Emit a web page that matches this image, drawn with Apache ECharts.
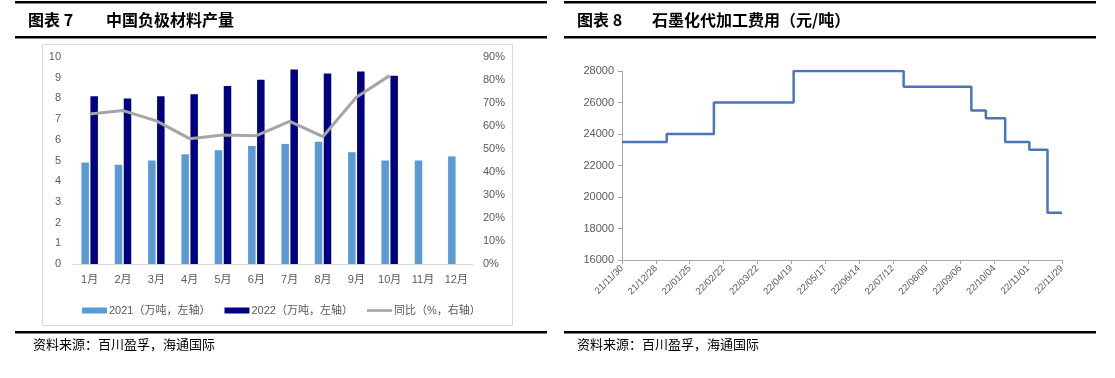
<!DOCTYPE html>
<html><head><meta charset="utf-8">
<script src="https://cdn.jsdelivr.net/npm/echarts@6/dist/echarts.min.js"></script>
<style>html,body{margin:0;padding:0;background:#fff;}#c{width:1115px;height:378px;}</style>
</head><body><div id="c"></div>
<script>
// ---- Chart 7 data ----
const months = ['1月','2月','3月','4月','5月','6月','7月','8月','9月','10月','11月','12月'];
const output2021 = [4.9, 4.8, 5.0, 5.3, 5.5, 5.7, 5.8, 5.9, 5.4, 5.0, 5.0, 5.2];
const output2022 = [8.1, 8.0, 8.1, 8.2, 8.6, 8.9, 9.4, 9.2, 9.3, 9.1, null, null];
const yoy = [0.652, 0.667, 0.622, 0.545, 0.561, 0.558, 0.62, 0.554, 0.725, 0.819, null, null];
const leftTicks = [0, 10, 1];      // min, max, interval
const rightTicks = [0, 0.9, 0.1];
const seriesNames = ['2021（万吨，左轴）', '2022（万吨，左轴）', '同比（%，右轴）'];

// ---- Chart 8 data ----
const feeStart = '2021-11-30';
const feeEnd = '2022-11-29';
const feeDates = ['2021-11-30','2022-01-06','2022-02-14','2022-04-21','2022-07-21','2022-09-15','2022-09-27','2022-10-13','2022-11-02','2022-11-17','2022-11-29'];
const feeValues = [23500, 24000, 26000, 28000, 27000, 25500, 25000, 23500, 23000, 19000, 19000];
const feeTickDays = 28;
const feeYTicks = [16000, 28000, 2000];

const title7 = ['图表 7', '中国负极材料产量'];
const title8 = ['图表 8', '石墨化代加工费用（元/吨）'];
const sourceText = '资料来源：百川盈孚，海通国际';

const DAY = 86400000;
function toUTC(s){ const p = s.split('-').map(Number); return Date.UTC(p[0], p[1]-1, p[2]); }
const t0 = toUTC(feeStart);
const feeData = feeDates.map((d, i) => [(toUTC(d) - t0) / DAY, feeValues[i]]);
const feeMax = (toUTC(feeEnd) - t0) / DAY;
function fmtDay(v){
  const d = new Date(t0 + v * DAY);
  const p = n => String(n).padStart(2, '0');
  return p(d.getUTCFullYear() % 100) + '/' + p(d.getUTCMonth() + 1) + '/' + p(d.getUTCDate());
}

const labelColor = '#595959';
const cjk = '"Noto Sans CJK SC", "Noto Sans", sans-serif';
const font = 'Arial, "Liberation Sans", "Noto Sans CJK SC", sans-serif';

function rule(x1, x2, y, h){
  return { type: 'rect', silent: true, shape: { x: x1, y: y, width: x2 - x1, height: h }, style: { fill: '#000' } };
}
function txt(x, y, text, size, weight, family){
  return { type: 'text', silent: true, x: x, y: y, style: { text: text, fill: '#000', font: (weight || 'normal') + ' ' + size + 'px ' + (family || cjk), verticalAlign: 'middle' } };
}

const chart = echarts.init(document.getElementById('c'), null, { renderer: 'canvas' });
chart.setOption({
  animation: false,
  backgroundColor: '#fff',
  textStyle: { fontFamily: font },
  graphic: [
    rule(15, 547, 1, 2.5), rule(15, 547, 36, 2.5), rule(15, 547, 331, 2.5),
    rule(564, 1096, 1, 2.5), rule(564, 1096, 36, 2.5), rule(564, 1096, 331, 2.5),
    txt(28, 20, title7[0], 16, 'bold'), txt(106, 20, title7[1], 16, 'bold'),
    txt(577, 20, title8[0], 16, 'bold'), txt(652, 20, title8[1], 16, 'bold'),
    txt(33, 344, sourceText, 13, 'normal'), txt(577, 344, sourceText, 13, 'normal'),
    { type: 'rect', silent: true, z: -1, shape: { x: 42.5, y: 44.5, width: 470, height: 281 }, style: { fill: 'none', stroke: '#D9D9D9', lineWidth: 1 } }
  ],
  legend: {
    left: 77, top: 300,
    itemWidth: 25, itemHeight: 6, itemGap: 14,
    textStyle: { color: labelColor, fontSize: 11, fontFamily: font, padding: [0, 0, 0, -3] },
    data: [
      { name: seriesNames[0], icon: 'rect' },
      { name: seriesNames[1], icon: 'rect' },
      { name: seriesNames[2], icon: 'path://M0,0 L28,0 L28,3 L0,3 Z' }
    ]
  },
  grid: [
    { left: 73, right: 642, top: 57, bottom: 114, containLabel: false },
    { left: 622, right: 53, top: 71, bottom: 118, containLabel: false }
  ],
  xAxis: [
    {
      type: 'category', gridIndex: 0, data: months,
      axisLine: { lineStyle: { color: '#D9D9D9', width: 1 } },
      axisTick: { show: false },
      axisLabel: { color: labelColor, fontSize: 11, margin: 10, interval: 0, fontFamily: font }
    },
    {
      type: 'value', gridIndex: 1, min: 0, max: feeMax, interval: feeTickDays,
      axisLine: { show: true, lineStyle: { color: '#A6A6A6' } },
      axisTick: { show: true, length: 4, lineStyle: { color: '#A6A6A6' } },
      splitLine: { show: false },
      axisLabel: { color: labelColor, fontSize: 9.5, rotate: 45, margin: 7, fontFamily: font, formatter: v => fmtDay(v), showMinLabel: true, showMaxLabel: true }
    }
  ],
  yAxis: [
    {
      type: 'value', gridIndex: 0, min: leftTicks[0], max: leftTicks[1], interval: leftTicks[2],
      axisLine: { show: false }, axisTick: { show: false }, splitLine: { show: false },
      axisLabel: { color: labelColor, fontSize: 11, margin: 12, fontFamily: font }
    },
    {
      type: 'value', gridIndex: 0, position: 'right', min: rightTicks[0], max: rightTicks[1], interval: rightTicks[2],
      axisLine: { show: false }, axisTick: { show: false }, splitLine: { show: false },
      axisLabel: { color: labelColor, fontSize: 11, margin: 10, fontFamily: font, formatter: v => Math.round(v * 100) + '%' }
    },
    {
      type: 'value', gridIndex: 1, min: feeYTicks[0], max: feeYTicks[1], interval: feeYTicks[2],
      axisLine: { show: true, lineStyle: { color: '#A6A6A6' } },
      axisTick: { show: true, length: 4, lineStyle: { color: '#A6A6A6' } },
      splitLine: { show: false },
      axisLabel: { color: labelColor, fontSize: 11, margin: 8, fontFamily: font, formatter: v => String(v) }
    }
  ],
  series: [
    {
      name: seriesNames[0], type: 'bar', xAxisIndex: 0, yAxisIndex: 0, data: output2021,
      barWidth: 7.5, barGap: '20%', itemStyle: { color: '#5B9BD5' }
    },
    {
      name: seriesNames[1], type: 'bar', xAxisIndex: 0, yAxisIndex: 0, data: output2022,
      barWidth: 7.5, barGap: '20%', itemStyle: { color: '#000080' }
    },
    {
      name: seriesNames[2], type: 'line', xAxisIndex: 0, yAxisIndex: 1, data: yoy,
      symbol: 'none', lineStyle: { color: '#A5A5A5', width: 3 }, itemStyle: { color: '#A5A5A5' }
    },
    {
      name: 'fee', type: 'line', xAxisIndex: 1, yAxisIndex: 2, data: feeData, step: 'end',
      symbol: 'none', lineStyle: { color: '#4A76B8', width: 2.5 }, itemStyle: { color: '#4A76B8' }
    }
  ]
});
</script>
</body></html>
